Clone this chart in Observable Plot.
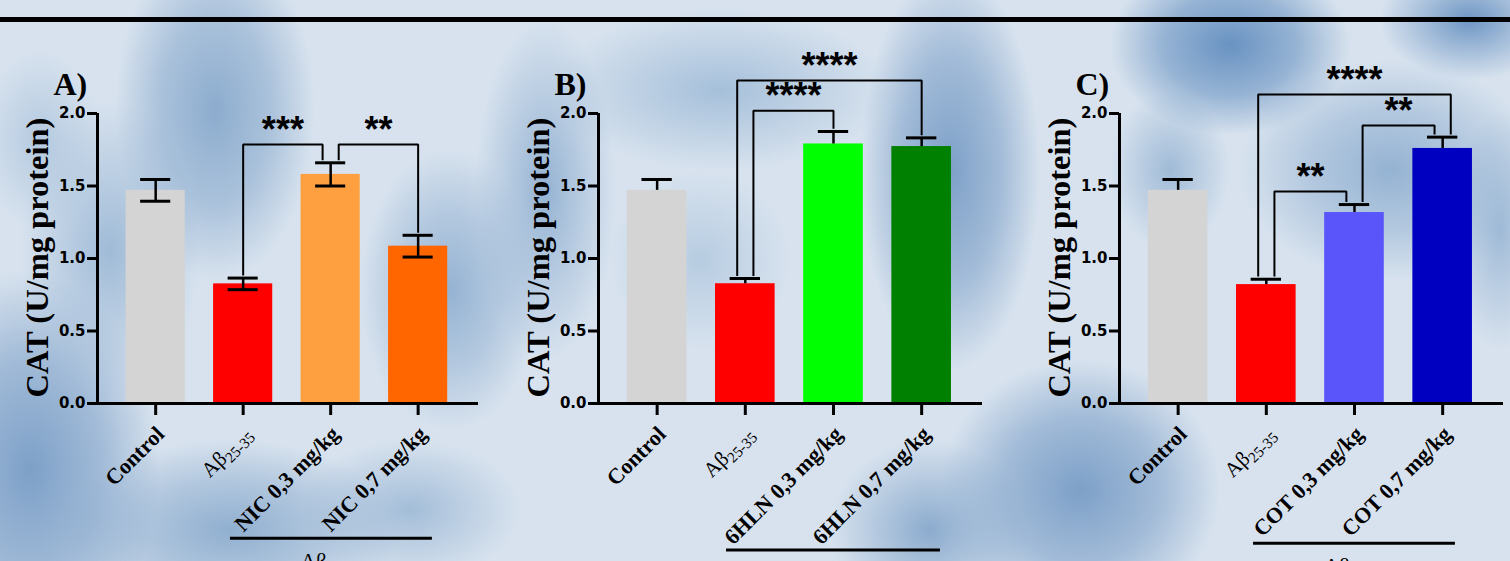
<!DOCTYPE html>
<html>
<head>
<meta charset="utf-8">
<script src="https://cdn.jsdelivr.net/npm/d3@7"></script>
<script src="https://cdn.jsdelivr.net/npm/@observablehq/plot@0.6"></script>
<style>
html, body { margin: 0; padding: 0; width: 1510px; height: 561px; overflow: hidden; }
body {
  position: relative;
  background-color: #d7e2ee;
  background-image:
    radial-gradient(ellipse 100px 170px at 215px 110px, rgba(140,172,206,1), rgba(140,172,206,0.6) 55%, rgba(140,172,206,0) 100%),
    radial-gradient(ellipse 90px 150px at 110px 250px, rgba(150,180,211,0.85), rgba(150,180,211,0) 100%),
    radial-gradient(ellipse 60px 90px at 40px 140px, rgba(165,191,218,0.7), rgba(165,191,218,0) 100%),
    radial-gradient(ellipse 130px 200px at 30px 470px, rgba(125,160,200,1), rgba(125,160,200,0.6) 55%, rgba(125,160,200,0) 100%),
    radial-gradient(ellipse 170px 90px at 230px 530px, rgba(140,172,206,0.95), rgba(140,172,206,0.5) 55%, rgba(140,172,206,0) 100%),
    radial-gradient(ellipse 110px 70px at 410px 510px, rgba(150,180,211,0.8), rgba(150,180,211,0) 100%),
    radial-gradient(ellipse 90px 140px at 450px 290px, rgba(145,176,209,0.95), rgba(145,176,209,0.5) 55%, rgba(145,176,209,0) 100%),
    radial-gradient(ellipse 70px 170px at 545px 190px, rgba(145,176,209,0.95), rgba(145,176,209,0) 100%),
    radial-gradient(ellipse 170px 80px at 720px 90px, rgba(160,188,216,0.9), rgba(160,188,216,0) 100%),
    radial-gradient(ellipse 90px 90px at 700px 260px, rgba(170,195,220,0.7), rgba(170,195,220,0) 100%),
    radial-gradient(ellipse 90px 200px at 950px 170px, rgba(125,160,200,1), rgba(125,160,200,0.6) 55%, rgba(125,160,200,0) 100%),
    radial-gradient(ellipse 100px 90px at 930px 530px, rgba(135,168,204,0.95), rgba(135,168,204,0) 100%),
    radial-gradient(ellipse 120px 90px at 1230px 45px, rgba(105,147,194,1), rgba(105,147,194,0.6) 55%, rgba(105,147,194,0) 100%),
    radial-gradient(ellipse 90px 60px at 1470px 20px, rgba(110,150,196,1), rgba(110,150,196,0) 100%),
    radial-gradient(ellipse 150px 110px at 1390px 170px, rgba(145,176,209,0.95), rgba(145,176,209,0.5) 55%, rgba(145,176,209,0) 100%),
    radial-gradient(ellipse 50px 120px at 1500px 230px, rgba(145,176,209,0.8), rgba(145,176,209,0) 100%),
    radial-gradient(ellipse 140px 130px at 1080px 490px, rgba(125,160,200,1), rgba(125,160,200,0.6) 55%, rgba(125,160,200,0) 100%),
    radial-gradient(ellipse 60px 80px at 1170px 170px, rgba(150,180,211,0.85), rgba(150,180,211,0) 100%);
}
#topline { position: absolute; left: 0; top: 17px; width: 1510px; height: 5px; background: #000; }
.panel { position: absolute; top: 0; }
.panel svg { overflow: visible; background: transparent; }
</style>
</head>
<body>
<div id="topline"></div>
<div id="pA" class="panel" style="left:0px"></div>
<div id="pB" class="panel" style="left:501px"></div>
<div id="pC" class="panel" style="left:1022px"></div>
<script>
// ---------- data ----------
const yTicks = [0, 0.5, 1.0, 1.5, 2.0];
const yTitle = "CAT (U/mg protein)";
const groupLabel = "Aβ25-35";

const categoriesA = ["Control", "Aβ25-35", "NIC 0,3 mg/kg", "NIC 0,7 mg/kg"];
const meansA = [1.47, 0.825, 1.58, 1.085];
const semsA = [0.075, 0.04, 0.08, 0.075];
const colorsA = ["#d4d4d4", "#ff0000", "#ffa040", "#ff6600"];
const bracketsA = [
  {from: 1, to: 2, height: 1.786, label: "***"},
  {from: 2, to: 3, height: 1.786, label: "**"}
];

const categoriesB = ["Control", "Aβ25-35", "6HLN 0,3 mg/kg", "6HLN 0,7 mg/kg"];
const meansB = [1.47, 0.826, 1.79, 1.772];
const semsB = [0.075, 0.036, 0.086, 0.06];
const colorsB = ["#d4d4d4", "#ff0000", "#00ff00", "#008000"];
const bracketsB = [
  {from: 1, to: 3, height: 2.228, label: "****"},
  {from: 1, to: 2, height: 2.019, label: "****"}
];

const categoriesC = ["Control", "Aβ25-35", "COT 0,3 mg/kg", "COT 0,7 mg/kg"];
const meansC = [1.47, 0.82, 1.317, 1.759];
const semsC = [0.075, 0.037, 0.055, 0.078];
const colorsC = ["#d4d4d4", "#ff0000", "#5a55fa", "#0000c0"];
const bracketsC = [
  {from: 1, to: 3, height: 2.131, label: "****"},
  {from: 2, to: 3, height: 1.917, label: "**"},
  {from: 1, to: 2, height: 1.462, label: "**"}
];

// ---------- layout / style ----------
const xDomain = [-0.665, 3.69];
const barHalf = 0.338, capHalf = 0.172, legGap = 0.025, spread = 0.092;
const SERIF = "'Liberation Serif', 'Times New Roman', serif";
const SANS = "'Liberation Sans', Arial, sans-serif";
const TICKFONT = "'DejaVu Sans', sans-serif";

function drawPanel(cfg) {
  const {el, letter, cats, means, sems, colors, brackets, lowerCaps, width, marginRight, group} = cfg;
  const data = cats.map((c, i) => ({i, cat: c, mean: means[i], sem: sems[i], color: colors[i]}));
  const tops = data.map(d => d.mean + d.sem);

  // bracket endpoint offsets where two brackets meet the same bar
  const ends = [];
  brackets.forEach((b, k) => {
    const span = Math.abs(b.to - b.from);
    ends.push({k, cat: b.from, side: "L", span});
    ends.push({k, cat: b.to, side: "R", span});
  });
  const offs = brackets.map(() => ({L: 0, R: 0}));
  d3.groups(ends, e => e.cat).forEach(([, es]) => {
    if (es.length < 2) return;
    es.sort((a, b) => a.side !== b.side ? (a.side === "R" ? -1 : 1)
      : (a.side === "L" ? b.span - a.span : a.span - b.span));
    es.forEach((e, j) => { offs[e.k][e.side] = (j - (es.length - 1) / 2) * 2 * spread; });
  });
  const pts = [];
  const mids = [];
  brackets.forEach((b, k) => {
    const x1 = b.from + offs[k].L, x2 = b.to + offs[k].R;
    pts.push({k, x: x1, y: tops[b.from] + legGap});
    pts.push({k, x: x1, y: b.height});
    pts.push({k, x: x2, y: b.height});
    pts.push({k, x: x2, y: tops[b.to] + legGap});
    mids.push({x: (x1 + x2) / 2, y: b.height, label: b.label});
  });

  const marks = [
    Plot.rectY(data, {x1: d => d.i - barHalf, x2: d => d.i + barHalf, y1: 0, y2: "mean", fill: "color"}),
    Plot.ruleX(data, {x: "i", y1: d => lowerCaps ? d.mean - d.sem : d.mean, y2: d => d.mean + d.sem, stroke: "#000", strokeWidth: 2.5}),
    Plot.ruleY(data, {y: d => d.mean + d.sem, x1: d => d.i - capHalf, x2: d => d.i + capHalf, stroke: "#000", strokeWidth: 3}),
    lowerCaps ? Plot.ruleY(data, {y: d => d.mean - d.sem, x1: d => d.i - capHalf, x2: d => d.i + capHalf, stroke: "#000", strokeWidth: 3}) : null,
    Plot.axisY({ticks: yTicks, tickFormat: () => "", tickSize: 10, stroke: "#000", strokeWidth: 3, label: null}),
    Plot.text(yTicks, {x: () => xDomain[0], y: d => d, text: d => d3.format(".1f")(d), textAnchor: "end", dx: -12,
      fontSize: 15, fontWeight: "bold", fontFamily: TICKFONT, fill: "#000"}),
    Plot.axisX({ticks: data.map(d => d.i), tickSize: 12, tickFormat: () => "", stroke: "#000", strokeWidth: 3, label: null}),
    Plot.ruleX([xDomain[0]], {y1: 0, y2: yTicks[yTicks.length - 1], stroke: "#000", strokeWidth: 3}),
    Plot.ruleY([0], {x1: xDomain[0], x2: xDomain[1], stroke: "#000", strokeWidth: 3}),
    Plot.text(data, {x: "i", y: d => 0, text: "cat", rotate: -45, textAnchor: "end", lineAnchor: "middle",
      dx: 5, dy: 27, fontSize: 22, fontWeight: "bold", fontFamily: SERIF, fill: "#000"}),
    Plot.line(pts, {x: "x", y: "y", z: "k", stroke: "#000", strokeWidth: 2, strokeLinejoin: "miter", strokeLinecap: "square"}),
    Plot.text(mids, {x: "x", y: "y", text: "label", dy: -14, fontSize: 36, fontWeight: "bold", fontFamily: SANS, fill: "#000"}),
    Plot.text([yTitle], {frameAnchor: "left", rotate: -90, textAnchor: "middle", lineAnchor: "middle", dx: -60, dy: -1,
      fontSize: 32.5, fontWeight: "bold", fontFamily: SERIF, fill: "#000"}),
    Plot.text([letter], {frameAnchor: "top-left", textAnchor: "start", lineAnchor: "middle", dx: -44, dy: -29,
      fontSize: 32, fontWeight: "bold", fontFamily: SERIF, fill: "#000"}),
    Plot.ruleY([group], {y: "y", x1: "from", x2: "to", stroke: "#000", strokeWidth: 3}),
    Plot.text([group], {x: d => (d.from + d.to) / 2, y: "y", text: () => groupLabel, dy: 23, fontSize: 22, fontFamily: SERIF, fill: "#000"})
  ].filter(Boolean);

  const svg = Plot.plot({
    width, height: 561,
    marginLeft: 97, marginRight, marginTop: 113, marginBottom: 158,
    x: {type: "linear", domain: xDomain, axis: null},
    y: {type: "linear", domain: [0, 2], axis: null},
    style: {background: "transparent", overflow: "visible"},
    marks
  });

  // subscripts for Aβ25-35
  d3.select(svg).selectAll("text").each(function () {
    if (this.textContent === "Aβ25-35") {
      const t = d3.select(this);
      t.text(null).attr("font-weight", "normal").attr("font-size", 21);
      t.append("tspan").text("Aβ");
      t.append("tspan").attr("font-size", "0.72em").attr("dy", "0.3em").text("25-35");
    }
  });
  document.getElementById(el).appendChild(svg);
}

drawPanel({el: "pA", letter: "A)", cats: categoriesA, means: meansA, sems: semsA, colors: colorsA, brackets: bracketsA,
  lowerCaps: true, width: 500, marginRight: 22, group: {from: 0.855, to: 3.163, y: -0.93}});
drawPanel({el: "pB", letter: "B)", cats: categoriesB, means: meansB, sems: semsB, colors: colorsB, brackets: bracketsB,
  lowerCaps: false, width: 500, marginRight: 19, group: {from: 0.787, to: 3.213, y: -1.01}});
drawPanel({el: "pC", letter: "C)", cats: categoriesC, means: meansC, sems: semsC, colors: colorsC, brackets: bracketsC,
  lowerCaps: false, width: 488, marginRight: 7, group: {from: 0.855, to: 3.145, y: -0.963}});
</script>
</body>
</html>
